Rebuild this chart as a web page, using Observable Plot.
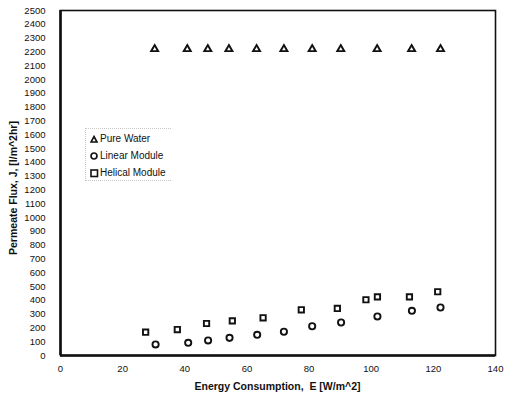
<!DOCTYPE html>
<html><head><meta charset="utf-8">
<script src="https://cdn.jsdelivr.net/npm/d3@7"></script>
<script src="https://cdn.jsdelivr.net/npm/@observablehq/plot@0.6"></script>
<style>
html,body{margin:0;padding:0;background:#fff;}
#wrap{position:relative;width:509px;height:397px;font-family:"Liberation Sans",Arial,sans-serif;}
#legend{position:absolute;left:85px;top:128px;width:86px;height:53px;border:1px dotted #c8c8c8;border-right:none;box-sizing:border-box;}
.item{position:absolute;left:4px;font-size:10px;line-height:10px;color:#111;display:flex;align-items:center;}
.item svg{margin-right:1px;}
</style></head>
<body><div id="wrap"><div id="legend"></div></div>
<script>
const waterX = [30.3, 40.8, 47.4, 54.2, 63.1, 71.9, 81.0, 90.2, 101.9, 113.0, 122.3];
const waterY = [2220, 2220, 2220, 2220, 2220, 2220, 2220, 2220, 2220, 2220, 2220];
const linearX = [30.6, 41.1, 47.5, 54.4, 63.3, 71.9, 81.0, 90.3, 102.0, 113.1, 122.3];
const linearY = [80, 92, 109, 128, 150, 172, 212, 239, 283, 324, 348];
const helicalX = [27.4, 37.6, 47.0, 55.3, 65.2, 77.5, 89.1, 98.3, 102.0, 112.3, 121.4];
const helicalY = [169, 188, 232, 251, 273, 331, 341, 404, 425, 425, 462];
const seriesNames = ["Pure Water", "Linear Module", "Helical Module"];
const seriesSymbols = ["triangle", "circle", "square"];
const xTicks = [0, 20, 40, 60, 80, 100, 120, 140];
const yTicks = d3.range(0, 2501, 100);
const xLabel = "Energy Consumption,  E [W/m^2]";
const yLabel = "Permeate Flux, J, [l/m^2hr]";

const mk = (xs, ys) => xs.map((x, i) => ({x, y: ys[i]}));
const dotStyle = {x: "x", y: "y", stroke: "#111", strokeWidth: 1.9, fill: "#fff"};

const chart = Plot.plot({
  width: 509, height: 397,
  marginLeft: 60, marginRight: 14, marginTop: 10, marginBottom: 42,
  style: {fontFamily: "Liberation Sans, Arial, sans-serif", fontSize: "9.5px", color: "#111", background: "#fff"},
  x: {domain: [0, 140]},
  y: {domain: [0, 2500]},
  marks: [
    Plot.frame({stroke: "#111", strokeWidth: 1.6}),
    Plot.axisX({ticks: xTicks, tickSize: 0, tickPadding: 10, label: null}),
    Plot.axisY({ticks: yTicks, tickSize: 0, tickPadding: 15, label: null, tickFormat: d3.format("d")}),
    Plot.ruleX([0], {stroke: "#111", strokeWidth: 2.6}),
    Plot.ruleY([0], {stroke: "#111", strokeWidth: 2.6}),
    Plot.dot(mk(waterX, waterY), {...dotStyle, symbol: seriesSymbols[0], r: 2.6}),
    Plot.dot(mk(linearX, linearY), {...dotStyle, symbol: seriesSymbols[1], r: 3.1}),
    Plot.dot(mk(helicalX, helicalY), {...dotStyle, symbol: seriesSymbols[2], r: 3.0})
  ]
});
const svg = d3.select(chart);
svg.append("text").attr("x", (60 + 495) / 2).attr("y", 390).attr("text-anchor", "middle")
  .attr("font-weight", "bold").attr("font-size", "10.5px").attr("fill", "#111").text(xLabel);
svg.append("text").attr("transform", `translate(17,188) rotate(-90)`).attr("text-anchor", "middle")
  .attr("font-weight", "bold").attr("font-size", "10.5px").attr("fill", "#111").text(yLabel);
document.getElementById("wrap").prepend(chart);

const legend = document.getElementById("legend");
const sym = {
  triangle: '<polygon points="4,1.5 7,7 1,7" fill="#fff" stroke="#111" stroke-width="1.6"/>',
  circle: '<circle cx="4" cy="4" r="3" fill="#fff" stroke="#111" stroke-width="1.7"/>',
  square: '<rect x="1" y="1" width="6.5" height="6.5" fill="#fff" stroke="#111" stroke-width="1.6"/>'
};
seriesNames.forEach((n, i) => {
  const d = document.createElement("div");
  d.className = "item";
  d.style.top = (5 + i * 17) + "px";
  d.innerHTML = `<svg width="9" height="9">${sym[seriesSymbols[i]]}</svg>${n}`;
  legend.appendChild(d);
});
</script></body></html>
